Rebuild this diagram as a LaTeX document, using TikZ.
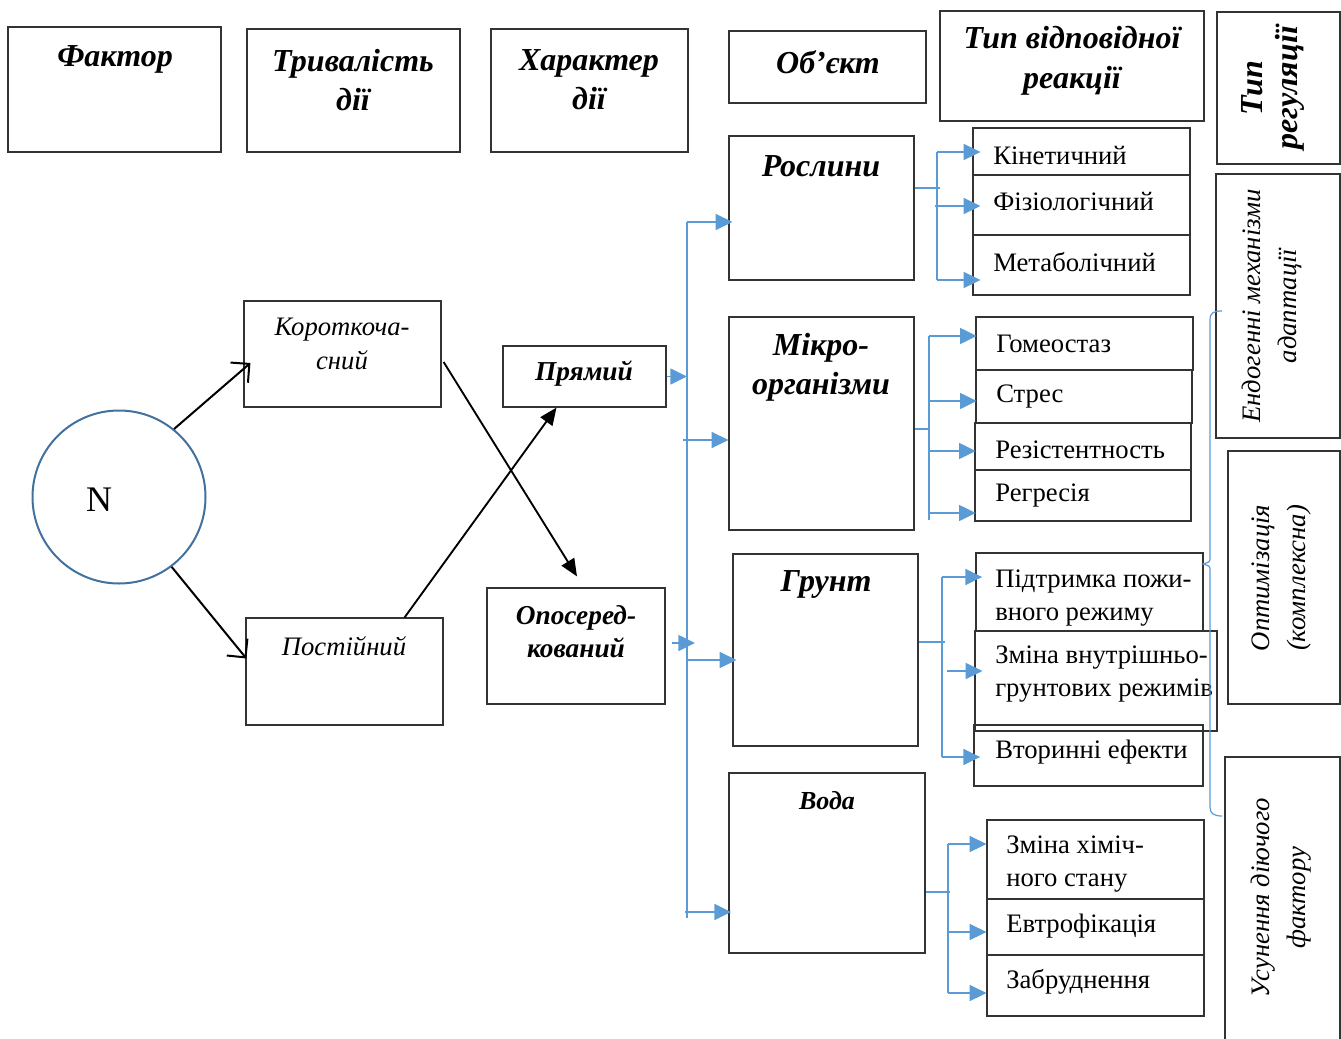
\documentclass[tikz,border=0pt]{standalone}
\usepackage{fontspec}
\setmainfont{Liberation Serif}
\usetikzlibrary{arrows.meta,fit}
\definecolor{bl}{HTML}{5B9BD5}
\definecolor{cb}{HTML}{41719C}
\definecolor{bd}{HTML}{333333}
\begin{document}
\begin{tikzpicture}[x=0.75pt,y=-0.75pt,
  bx/.style={draw=bd, line width=0.9pt, inner sep=0pt},
  hd/.style={font=\fontsize{24}{29}\selectfont\bfseries\itshape, align=center, inner sep=0pt},
  tx/.style={font=\fontsize{20}{25}\selectfont, align=left, anchor=west, inner sep=0pt},
  itx/.style={font=\fontsize{20}{25}\selectfont\itshape, align=center, inner sep=0pt},
  bix/.style={font=\fontsize{20.5}{25}\selectfont\bfseries\itshape, align=center, inner sep=0pt},
  rtx/.style={font=\fontsize{20}{27}\selectfont\itshape, align=center, rotate=90, inner sep=0pt},
  bln/.style={draw=bl, line width=1.1pt},
  bar/.style={bln, -{Triangle[length=12.5pt,width=12pt]}},
  kar/.style={draw=black, line width=1.4pt, -{Triangle[length=13pt,width=11pt]}},
  oar/.style={draw=black, line width=1.5pt, -{Straight Barb[length=10pt,width=20pt]}},
  brc/.style={draw=bl, line width=0.9pt}
]
\useasboundingbox (0,0) rectangle (1341,1038);

% header boxes
\node[bx, fit={(8,27) (221,152)}] (fak) {};
\node[bx, fit={(247,29) (460,152)}] (tri) {};
\node[bx, fit={(491,29) (688,152)}] (har) {};
\node[bx, fit={(729,31) (926,103)}] (obj) {};
\node[bx, fit={(940,11) (1204,121)}] (tvr) {};
\node[bx, fit={(1217,12) (1340,164)}] (trg) {};
\node[hd] (fakT) at (115,59) {Фактор};
\node[hd] (triT) at (353,80) {Тривалість\\дії};
\node[hd] (harT) at (589,80) {Характер\\дії};
\node[hd] (objT) at (828,62) {Об’єкт};
\node[hd, font=\fontsize{24}{30}\selectfont\bfseries\itshape] (tvrT) at (1072,61) {Тип відповідної\\реакції};
\node[hd, rotate=90, font=\fontsize{24}{26}\selectfont\bfseries\itshape] (trgT) at (1273,88) {Тип\\регуляції};

% regulation column
\node[bx, fit={(1216,174) (1340,438)}] (endo) {};
\node[bx, fit={(1228,451) (1340,704)}] (opt) {};
\node[bx, fit={(1225,757) (1340,1045)}] (usu) {};
\node[rtx] (endoT) at (1272,306) {Ендогенні механізми\\адаптації};
\node[rtx] (optT) at (1281,578) {Оптимізація\\(комплексна)};
\node[rtx] (usuT) at (1281,898) {Усунення діючого\\фактору};

% factor
\node[draw=cb, line width=1.5pt, circle, minimum size=129.75pt, inner sep=0pt] (N) at (119,497) {};
\node[font=\fontsize{27}{30}\selectfont, inner sep=0pt] (Nt) at (99,500) {N};

\node[bx, fit={(244,301) (441,407)}] (kor) {};
\node[bx, fit={(246,618) (443,725)}] (pos) {};
\node[itx] (korT) at (342,344) {Короткоча-\\сний};
\node[itx] (posT) at (344,646) {Постійний};

\node[bx, fit={(503,346) (666,407)}] (pry) {};
\node[bx, fit={(487,588) (665,704)}] (opo) {};
\node[bix] (pryT) at (584,374) {Прямий};
\node[bix] (opoT) at (576,632) {Опосеред-\\кований};

% objects
\node[bx, fit={(729,136) (914,280)}] (ros) {};
\node[bx, fit={(729,317) (914,530)}] (mik) {};
\node[bx, fit={(733,554) (918,746)}] (gru) {};
\node[bx, fit={(729,773) (925,953)}] (vod) {};
\node[hd] (rosT) at (821,166) {Рослини};
\node[hd] (mikT) at (821,367) {Мікро-\\організми};
\node[hd] (gruT) at (826,584) {Грунт};
\node[hd, font=\fontsize{19.5}{24}\selectfont\bfseries\itshape] (vodT) at (827,801) {Вода};

% reaction types
\node[bx, fit={(973,128) (1190,175)}] (kin) {};
\node[bx, fit={(973,175) (1190,235)}] (fiz) {};
\node[bx, fit={(973,235) (1190,295)}] (met) {};
\node[bx, fit={(976,317) (1193,370)}] (gom) {};
\node[bx, fit={(976,370) (1192,423)}] (str) {};
\node[bx, fit={(975,423) (1191,470)}] (rez) {};
\node[bx, fit={(975,470) (1191,521)}] (reg) {};
\node[bx, fit={(976,553) (1203,631)}] (pid) {};
\node[bx, fit={(975,631) (1217,731)}] (zmi) {};
\node[bx, fit={(974,725) (1203,786)}] (vto) {};
\node[bx, fit={(987,820) (1204,899)}] (zhi) {};
\node[bx, fit={(987,899) (1204,955)}] (evt) {};
\node[bx, fit={(987,955) (1204,1016)}] (zab) {};

\node[tx] (kinT) at (993,156) {Кінетичний};
\node[tx] (fizT) at (993,202) {Фізіологічний};
\node[tx] (metT) at (993,262) {Метаболічний};
\node[tx] (gomT) at (996,344) {Гомеостаз};
\node[tx] (strT) at (996,397) {Стрес};
\node[tx] (rezT) at (995,450) {Резістентность};
\node[tx] (regT) at (995,496) {Регресія};
\node[tx] (pidT) at (995,598) {Підтримка пожи-\\вного режиму};
\node[tx] (zmiT) at (995,674) {Зміна внутрішньо-\\грунтових режимів};
\node[tx] (vtoT) at (995,752) {Вторинні ефекти};
\node[tx] (zhiT) at (1006,864) {Зміна хіміч-\\ного стану};
\node[tx] (evtT) at (1006,926) {Евтрофікація};
\node[tx] (zabT) at (1006,982) {Забруднення};

% black arrows
\draw[oar] (N.51) -- ([shift={(7,9)}]kor.west);
\draw[oar] (N.-53) -- ([shift={(1,-13)}]pos.west);
\draw[kar] ([shift={(2,8)}]kor.east) -- ([shift={(1,-11)}]opo.north);
\draw[kar] ([shift={(-39,0)}]pos.north east) -- ([shift={(-28,0)}]pry.south);

% main blue bus
\coordinate (b1) at (687,222);
\coordinate (b2) at (687,918);
\coordinate (b3) at (683,440);
\coordinate (b4) at (695,643);
\coordinate (b5) at (687,660);
\coordinate (b6) at (685,912);
\draw[bln] (b1) -- (b2);
\draw[bar, shorten >=-3pt] (b1) -- (ros.west |- b1);
\draw[bar] (pry.east) -- (pry.east -| b1);
\draw[bar] (b3) -- (mik.west |- b3);
\draw[bar] ([xshift=5pt]opo.east |- b4) -- (b4);
\draw[bar, shorten >=-3pt] (b5) -- (gru.west |- b5);
\draw[bar, shorten >=-2pt] (b6) -- (vod.west |- b6);

% plants group
\coordinate (r0) at (940,188);
\coordinate (r1) at (937,152);
\coordinate (r2) at (935,206);
\coordinate (r3) at (937,280);
\draw[bln] (ros.east |- r0) -- (r0);
\draw[bln] (r1) -- (r3);
\draw[bar, shorten >=-6pt] (r1) -- (kin.west |- r1);
\draw[bar, shorten >=-6pt] (r2) -- (fiz.west |- r2);
\draw[bar, shorten >=-6pt] (r3) -- (met.west |- r3);

% microorganisms group
\coordinate (m0) at (929,429);
\coordinate (m1) at (929,336);
\coordinate (m2) at (929,401);
\coordinate (m3) at (929,451);
\coordinate (m4) at (929,513);
\coordinate (m5) at (929,520);
\draw[bln] (mik.east |- m0) -- (m0);
\draw[bln] (m1) -- (m5);
\draw[bar, shorten >=-1pt] (m1) -- (gom.west |- m1);
\draw[bar, shorten >=-1pt] (m2) -- (str.west |- m2);
\draw[bar, shorten >=-1pt] (m3) -- (rez.west |- m3);
\draw[bar, shorten >=-1pt] (m4) -- (reg.west |- m4);

% soil group
\coordinate (g0) at (945,642);
\coordinate (g1) at (942,577);
\coordinate (g2) at (947,671);
\coordinate (g3) at (942,757);
\draw[bln] (gru.east |- g0) -- (g0);
\draw[bln] (g1) -- (g3);
\draw[bar, shorten >=-5pt] (g1) -- (pid.west |- g1);
\draw[bar, shorten >=-6pt] (g2) -- (zmi.west |- g2);
\draw[bar, shorten >=-5pt] (g3) -- (vto.west |- g3);

% water group
\coordinate (w0) at (950,892);
\coordinate (w1) at (948,844);
\coordinate (w2) at (948,932);
\coordinate (w3) at (948,993);
\draw[bln] (vod.east |- w0) -- (w0);
\draw[bln] (w1) -- (w3);
\draw[bar] (w1) -- (zhi.west |- w1);
\draw[bar] (w2) -- (evt.west |- w2);
\draw[bar] (w3) -- (zab.west |- w3);

% brace
\draw[brc] (1222,311) .. controls (1213,311) and (1210,313) .. (1210,320) -- (1210,557) .. controls (1210,562) .. (1203,564) .. controls (1210,566) .. (1210,571) -- (1210,807) .. controls (1210,813) and (1213,816) .. (1222,816);
\end{tikzpicture}
\end{document}
